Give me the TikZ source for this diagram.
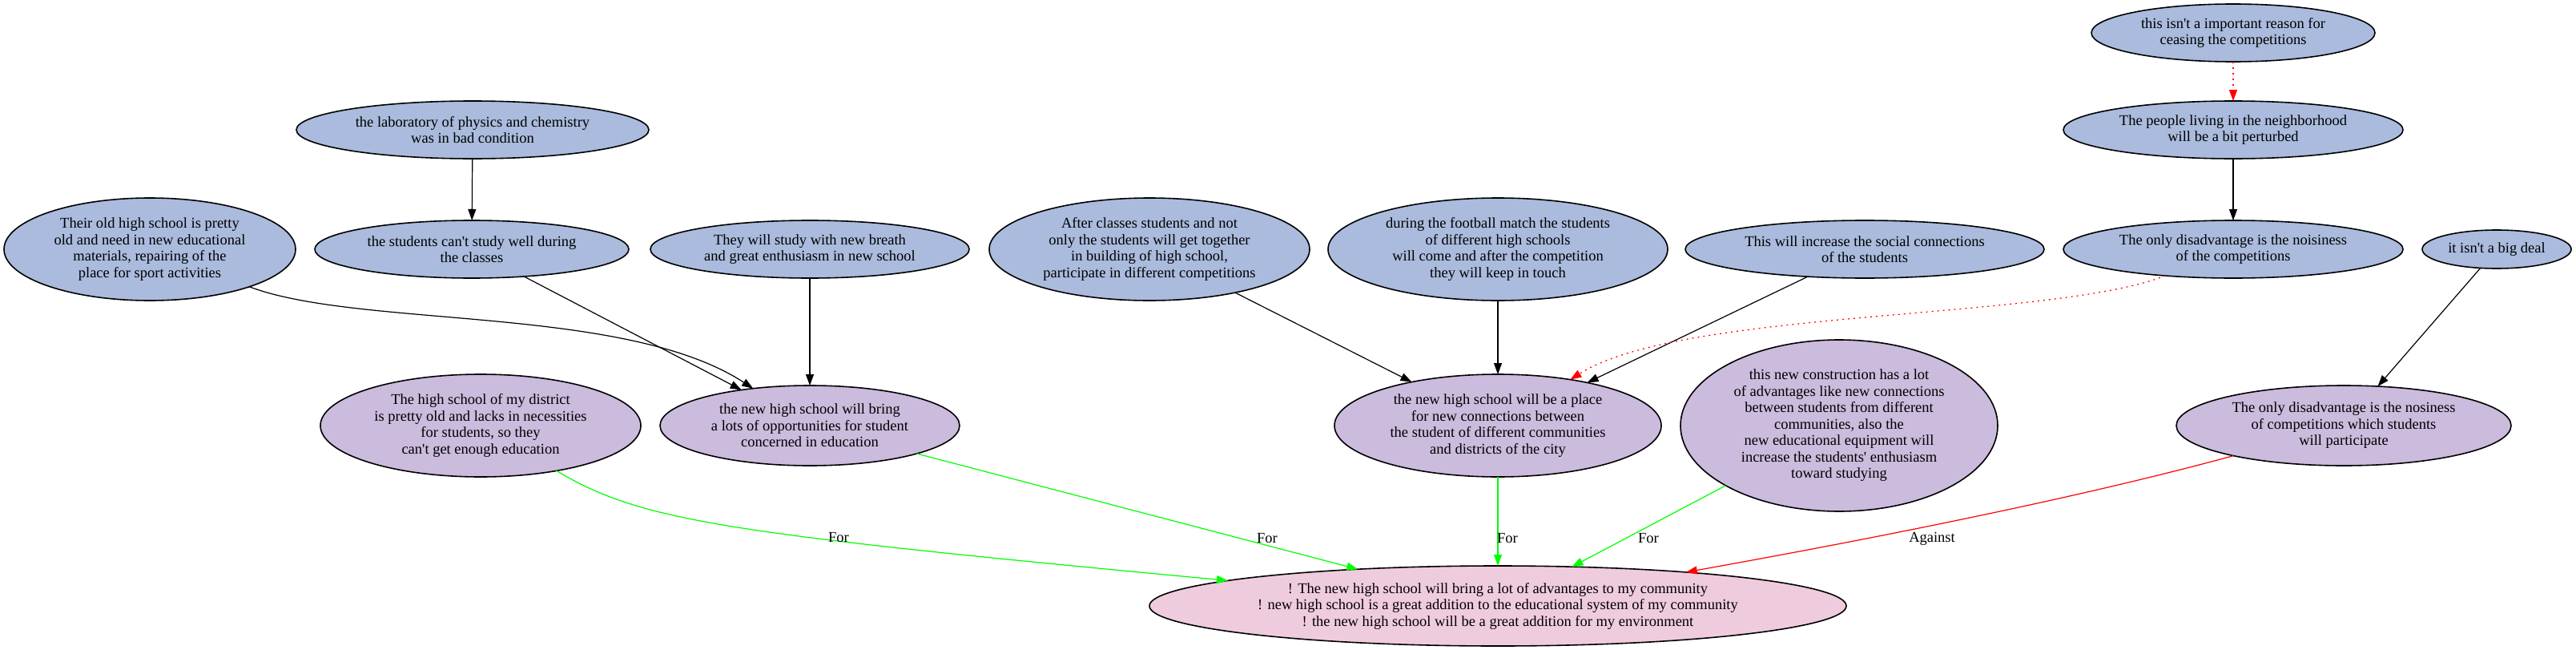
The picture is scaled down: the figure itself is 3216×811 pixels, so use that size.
\documentclass[tikz,border=0pt]{standalone}
\usepackage{fontspec}
\setmainfont{Liberation Serif}
\usetikzlibrary{arrows.meta,shapes.geometric}
\definecolor{cblue}{HTML}{AABBDD}
\definecolor{cpurple}{HTML}{CBBBDD}
\definecolor{cpink}{HTML}{EFCCDD}
\definecolor{cgreen}{HTML}{00FF00}
\definecolor{cred}{HTML}{FF0000}
\newcommand\fs{\fontsize{18.5}{20.5}\selectfont}
\newcommand\q{\textquotesingle}
\tikzset{
  ell/.style={ellipse, draw=black, line width=1.6pt, inner sep=0pt, outer sep=0pt, align=center, font=\fs},
  bl/.style={ell, fill=cblue},
  pu/.style={ell, fill=cpurple},
  pk/.style={ell, fill=cpink},
  arr/.style={line width=1.2pt, -{Triangle[length=14pt,width=10pt]}},
  blk/.style={arr, draw=black},
  grn/.style={arr, draw=cgreen},
  rd/.style={arr, draw=cred},
  rdot/.style={arr, draw=cred, dash pattern=on 2pt off 5pt},
  lbl/.style={font=\fs, inner sep=0pt}
}
\begin{document}
\begin{tikzpicture}[x=1pt,y=-1pt]
\useasboundingbox (0,0) rectangle (3216,811);
% top-row / argument nodes
\node[bl, minimum width=364pt, minimum height=128pt] (n1) at (187,311) {Their old high school is pretty\\old and need in new educational\\materials, repairing of the\\place for sport activities};
\node[bl, minimum width=440pt, minimum height=72pt] (lab) at (590,162) {the laboratory of physics and chemistry\\was in bad condition};
\node[bl, minimum width=392pt, minimum height=72pt] (stu) at (589,311) {the students can\q t study well during\\the classes};
\node[bl, minimum width=398pt, minimum height=72pt] (brh) at (1011,311) {They will study with new breath\\and great enthusiasm in new school};
\node[bl, minimum width=400pt, minimum height=128pt] (aft) at (1435,311) {After classes students and not\\only the students will get together\\in building of high school,\\participate in different competitions};
\node[bl, minimum width=424pt, minimum height=128pt] (fbm) at (1870,311) {during the football match the students\\of different high schools\\will come and after the competition\\they will keep in touch};
\node[bl, minimum width=448pt, minimum height=72pt] (soc) at (2328,311) {This will increase the social connections\\of the students};
\node[bl, minimum width=354pt, minimum height=72pt] (nimp) at (2788,41) {this isn\q t a important reason for\\ceasing the competitions};
\node[bl, minimum width=424pt, minimum height=72pt] (ppl) at (2788,162) {The people living in the neighborhood\\will be a bit perturbed};
\node[bl, minimum width=424pt, minimum height=72pt] (noi) at (2788,311) {The only disadvantage is the noisiness\\of the competitions};
\node[bl, minimum width=186pt, minimum height=48pt] (big) at (3117,311) {it isn\q t a big deal};
% middle row
\node[pu, minimum width=400pt, minimum height=128pt] (dis) at (600,531) {The high school of my district\\is pretty old and lacks in necessities\\for students, so they\\can\q t get enough education};
\node[pu, minimum width=374pt, minimum height=100pt] (brg) at (1011,531) {the new high school will bring\\a lots of opportunities for student\\concerned in education};
\node[pu, minimum width=408pt, minimum height=128pt] (plc) at (1870,531) {the new high school will be a place\\for new connections between\\the student of different communities\\and districts of the city};
\node[pu, minimum width=396pt, minimum height=214pt] (con) at (2296,531) {this new construction has a lot\\of advantages like new connections\\between students from different\\communities, also the\\new educational equipment will\\increase the students\q\ enthusiasm\\toward studying};
\node[pu, minimum width=418pt, minimum height=100pt] (nos) at (2926,531) {The only disadvantage is the nosiness\\of competitions which students\\will participate};
% main claim
\node[pk, minimum width=870pt, minimum height=100pt] (main) at (1870,756) {! The new high school will bring a lot of advantages to my community\\! new high school is a great addition to the educational system of my community\\! the new high school will be a great addition for my environment};
% support edges
\draw[blk] (lab) -- (stu);
\draw[blk] (stu) -- (brg);
\draw[blk] (n1) .. controls (450,410) and (780,380) .. (brg);
\draw[blk] (brh) -- (brg);
\draw[blk] (aft) -- (plc);
\draw[blk] (fbm) -- (plc);
\draw[blk] (soc) -- (plc);
\draw[rdot] (noi) .. controls (2560,400) and (2100,385) .. (plc);
\draw[rdot] (nimp) -- (ppl);
\draw[blk] (ppl) -- (noi);
\draw[blk] (big) -- (nos);
% to main
\draw[grn] (dis) .. controls (800,650) and (900,665) .. (main);
\draw[grn] (brg) -- (main);
\draw[grn] (plc) -- (main);
\draw[grn] (con) -- (main);
\draw[rd] (nos) .. controls (2600,620) and (2350,670) .. (main);
% labels
\node[lbl] (l1) at (1047,671) {For};
\node[lbl] (l2) at (1582,672) {For};
\node[lbl] (l3) at (1882,672) {For};
\node[lbl] (l4) at (2058,672) {For};
\node[lbl] (l5) at (2412,672) {Against};
\end{tikzpicture}
\end{document}
